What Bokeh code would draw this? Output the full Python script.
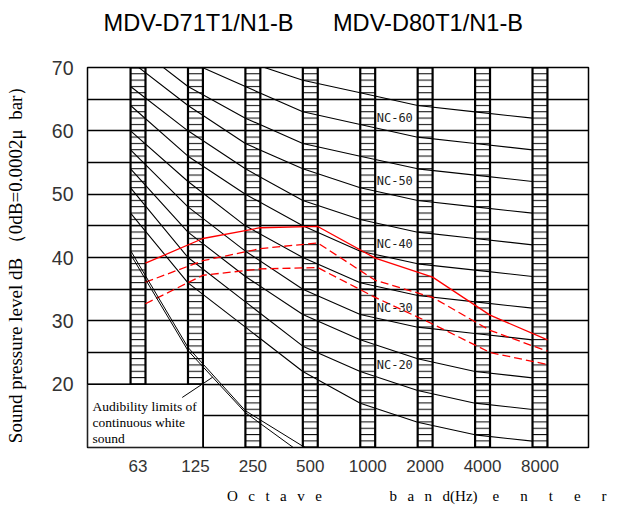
from bokeh.plotting import figure
from bokeh.models import Range1d, FixedTicker, ColumnDataSource
from bokeh.transform import dodge
from bokeh.core.properties import value
from bokeh.embed import file_html
from bokeh.resources import INLINE

# ---------------- data ----------------
title_left = "MDV-D71T1/N1-B"
title_right = "MDV-D80T1/N1-B"
bands = ["63", "125", "250", "500", "1000", "2000", "4000", "8000"]
band_pos = [0, 1, 2, 3, 4, 5, 6, 7]

nc_names = ["NC-15", "NC-20", "NC-25", "NC-30", "NC-35", "NC-40",
            "NC-45", "NC-50", "NC-55", "NC-60", "NC-65"]
nc_15 = [47, 36, 29, 22, 17, 14, 12, 11]
nc_20 = [51, 40, 33, 26, 22, 19, 17, 16]
nc_25 = [54, 44, 37, 31, 27, 24, 22, 21]
nc_30 = [57, 48, 41, 35, 31, 29, 28, 27]
nc_35 = [60, 52, 45, 40, 36, 34, 33, 32]
nc_40 = [64, 56, 50, 45, 41, 39, 38, 37]
nc_45 = [67, 60, 54, 49, 46, 44, 43, 42]
nc_50 = [71, 64, 58, 54, 51, 49, 48, 47]
nc_55 = [74, 67, 62, 58, 56, 54, 53, 52]
nc_60 = [77, 71, 67, 63, 61, 59, 58, 57]
nc_65 = [80, 75, 71, 68, 66, 64, 63, 62]
nc_curves = [nc_15, nc_20, nc_25, nc_30, nc_35, nc_40,
             nc_45, nc_50, nc_55, nc_60, nc_65]
nc_labelled = ["NC-20", "NC-30", "NC-40", "NC-50", "NC-60"]

unit_solid = [39.1, 43.0, 44.7, 44.9, 39.9, 36.9, 30.9, 27.0]
unit_dash_a = [36.1, 39.5, 41.4, 42.3, 36.4, 33.7, 28.5, 25.2]
unit_dash_b = [32.7, 37.2, 38.2, 38.4, 33.7, 29.5, 25.0, 23.1]

aud_pos = [0, 1, 2, 3, 4]
aud_upper = [41.1, 25.8, 15.8, 10.2, 6.0]
aud_lower = [40.5, 25.3, 15.5, 8.9, 4.0]
aud_text = "Audibility limits of\ncontinuous white\nsound"
pointer_x = [0.77, 1.30]
pointer_y = [17.9, 21.1]
box_level = 20

y_ticks = [20, 30, 40, 50, 60, 70]
grid_levels = [15, 20, 25, 30, 35, 40, 45, 50, 55, 60, 65]

y_label = "Sound pressure level dB （0dB=0.0002μ\u00a0\u00a0bar）\u00a0"
g = "\u2002\u2009"
ge = "\u2003\u2009\u2009"
x_label = ("\u2003" * 10 + "\u2002" + g.join("Octave") + "\u2003" * 4 + "\u2002" +
           g.join("band") + "(Hz)" + "\u2003" + ge.join("enter"))

# ---------------- figure ----------------
X0, X1 = -0.88, 7.845
Y0, Y1 = 10, 70
bar_w = 0.26

p = figure(width=618, height=511, x_range=Range1d(X0, X1), y_range=Range1d(Y0, Y1),
           output_backend="svg", toolbar_location=None,
           min_border_left=87, min_border_right=30, min_border_top=67, min_border_bottom=64)
p.background_fill_color = "white"
p.border_fill_color = "white"
p.outline_line_color = "black"
p.outline_line_width = 1.5

# two-line title whose second line is blank, lifting the text away from the frame
p.title.text = title_left + "\u00a0" * 6 + title_right + "\n\u00a0"
p.title.text_font = "Liberation Sans"
p.title.text_font_size = "23.6px"
p.title.text_font_style = "normal"
p.title.text_color = "black"
p.title.align = "left"
p.title.offset = 16
p.title.standoff = 12

# axes
p.xaxis.ticker = FixedTicker(ticks=band_pos)
p.xaxis.major_label_overrides = {pos: lab for pos, lab in zip(band_pos, bands)}
p.yaxis.ticker = FixedTicker(ticks=y_ticks)
for ax in (p.xaxis[0], p.yaxis[0]):
    ax.axis_line_color = None
    ax.major_tick_line_color = None
    ax.minor_tick_line_color = None
    ax.major_tick_out = 0
    ax.major_tick_in = 0
    ax.major_label_text_font = "Liberation Sans"
    ax.major_label_text_color = "#333333"
p.xaxis.major_label_text_font_size = "17px"
p.xaxis.major_label_standoff = 12
p.xaxis.axis_label = x_label
p.xaxis.axis_label_text_font = "Liberation Serif"
p.xaxis.axis_label_text_font_style = "normal"
p.xaxis.axis_label_text_font_size = "15px"
p.xaxis.axis_label_text_color = "black"
p.xaxis.axis_label_standoff = 13
p.yaxis.major_label_text_font_size = "19.5px"
p.yaxis.major_label_standoff = 14
p.yaxis.axis_label = y_label
p.yaxis.axis_label_text_font = "Liberation Serif"
p.yaxis.axis_label_text_font_style = "normal"
p.yaxis.axis_label_text_font_size = "19px"
p.yaxis.axis_label_text_color = "black"
p.yaxis.axis_label_standoff = 23

p.xgrid.visible = False
p.ygrid.ticker = FixedTicker(ticks=grid_levels)
p.ygrid.grid_line_color = "black"
p.ygrid.grid_line_width = 1.3
p.ygrid.grid_line_alpha = 1.0

# hatched octave-band columns
bar_src = ColumnDataSource(dict(x=band_pos, top=[Y1] * len(band_pos), bottom=[Y0] * len(band_pos)))
p.vbar(x="x", top="top", bottom="bottom", width=bar_w, source=bar_src,
       fill_color=None, line_color="black", line_width=2.2,
       hatch_pattern="-", hatch_scale=6.33, hatch_weight=1.0, hatch_color="black")

# NC curves (drawn from the left edge of each column)
for vals in nc_curves:
    src = ColumnDataSource(dict(x=band_pos, y=vals))
    p.line(x=dodge("x", -bar_w / 2, range=p.x_range), y="y", source=src,
           line_color="black", line_width=1.1)

# measured unit curves (drawn from the right edge of each column)
for vals, dash in ((unit_solid, "solid"), (unit_dash_a, "8 4"), (unit_dash_b, "8 4")):
    src = ColumnDataSource(dict(x=band_pos, y=vals))
    p.line(x=dodge("x", bar_w / 2, range=p.x_range), y="y", source=src,
           line_color="#ff0000", line_width=1.3, line_dash=dash)

# audibility limits
for vals in (aud_upper, aud_lower):
    src = ColumnDataSource(dict(x=aud_pos, y=vals))
    p.line(x=dodge("x", -bar_w / 2, range=p.x_range), y="y", source=src,
           line_color="black", line_width=1.0)

# NC labels
lab_src = ColumnDataSource(dict(
    x=[band_pos[4]] * len(nc_labelled),
    y=[nc_curves[nc_names.index(n)][4] for n in nc_labelled],
    t=nc_labelled))
p.text(x="x", y="y", text="t", source=lab_src, x_offset=9, y_offset=-7,
       text_font=value("DejaVu Sans Mono"), text_font_size="12px",
       text_color="#222222", text_align="left", text_baseline="middle")

# audibility legend box
p.quad(left=[X0], right=[band_pos[1] + bar_w / 2], bottom=[Y0], top=[box_level],
       fill_color="white", line_color="black", line_width=1.5)
p.line(x=pointer_x, y=pointer_y, line_color="black", line_width=1.0)
p.text(x=[X0], y=[box_level], text=[aud_text], x_offset=5, y_offset=38,
       text_font=value("Liberation Serif"), text_font_size="13.5px",
       text_color="black", text_align="left", text_baseline="middle",
       text_line_height=1.07)

open("out.html", "w").write(file_html(p, INLINE))
